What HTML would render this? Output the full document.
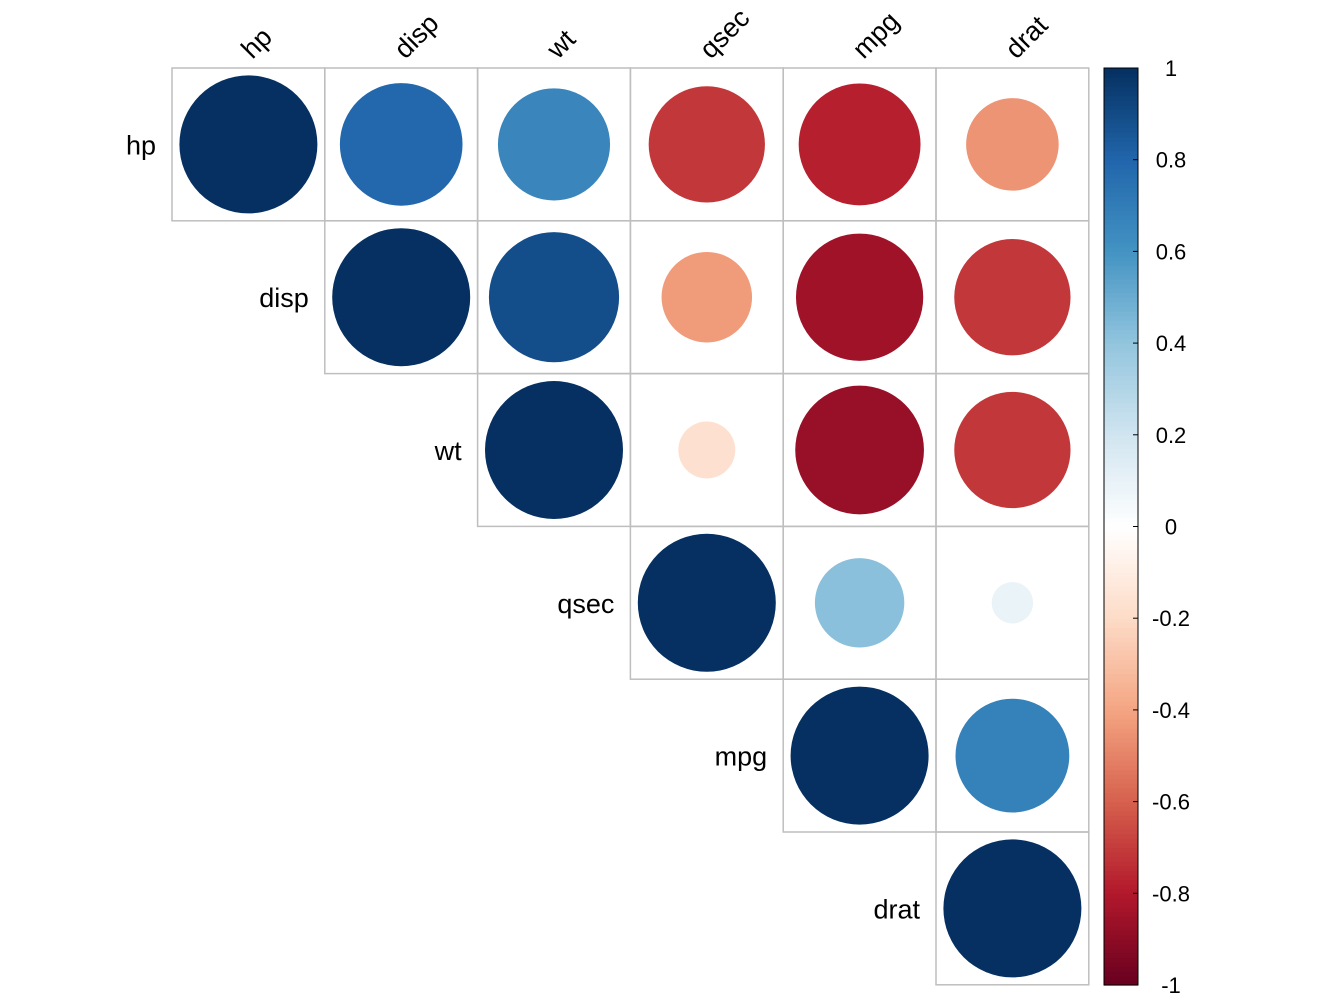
<!DOCTYPE html>
<html><head><meta charset="utf-8"><style>
html,body{margin:0;padding:0;background:#fff}
svg{display:block;font-family:"Liberation Sans",Arial,sans-serif}
</style></head><body>
<svg id="chart" width="1344" height="1008" viewBox="0 0 1344 1008"></svg>
<script>
const variables = ["hp","disp","wt","qsec","mpg","drat"];
const corrRows = [
  [1, 0.79, 0.66, -0.71, -0.78, -0.45],
  [null, 1, 0.89, -0.43, -0.85, -0.71],
  [null, null, 1, -0.17, -0.87, -0.71],
  [null, null, null, 1, 0.42, 0.09],
  [null, null, null, null, 1, 0.68],
  [null, null, null, null, null, 1]
];
const legendTicks = [1,0.8,0.6,0.4,0.2,0,-0.2,-0.4,-0.6,-0.8,-1];
const legendLabels = ["1","0.8","0.6","0.4","0.2","0","-0.2","-0.4","-0.6","-0.8","-1"];

const NS="http://www.w3.org/2000/svg";
const svg=document.getElementById('chart');
function mk(t,a,p){const e=document.createElementNS(NS,t);for(const k in a)e.setAttribute(k,a[k]);(p||svg).appendChild(e);return e;}
const pal=["#67001F","#B2182B","#D6604D","#F4A582","#FDDBC7","#FFFFFF","#D1E5F0","#92C5DE","#4393C3","#2166AC","#053061"];
function hex(h){return [1,3,5].map(i=>parseInt(h.substr(i,2),16));}
function col(v){const t=(v+1)/2*(pal.length-1);const i=Math.min(Math.floor(t),pal.length-2);const f=t-i;
 const a=hex(pal[i]),b=hex(pal[i+1]);return "rgb("+a.map((x,k)=>Math.round(x+(b[k]-x)*f)).join(",")+")";}

const x0=172,y0=68,cs=152.8,maxR=69;
const xPos=j=>x0+j*cs, yPos=i=>y0+i*cs;
const n=variables.length;
for(let i=0;i<n;i++){for(let j=i;j<n;j++){
  const v=corrRows[i][j];
  const r=mk('rect',{x:xPos(j),y:yPos(i),width:cs,height:cs,fill:'none',stroke:'#bebebe','stroke-width':1.5});
  
  
  const c=mk('circle',{cx:xPos(j)+cs/2,cy:yPos(i)+cs/2,r:maxR*Math.sqrt(Math.abs(v)),fill:col(v)});
  
  
}}
variables.forEach((v,i)=>{
  const t=mk('text',{x:xPos(i)-16,y:yPos(i)+cs/2+10,'text-anchor':'end','font-size':27});
  t.textContent=v;
  
  
  const cx=xPos(i)+cs/2+4, cy=y0-8;
  const u=mk('text',{x:cx,y:cy,'font-size':27,transform:'rotate(-45 '+cx+' '+cy+')'});
  u.textContent=v;
  
  
});
// colorbar
const bx=1104,bw=34,by0=68,by1=985;
const yL=v=>by1-(v+1)/2*(by1-by0);
const N=200;
for(let k=0;k<N;k++){const v=-1+(k+0.5)*2/N;
  mk('rect',{x:bx,y:yL(-1+(k+1)*2/N),width:bw,height:(by1-by0)/N+0.6,fill:col(v)});}
const fr=mk('rect',{x:bx,y:by0,width:bw,height:by1-by0,fill:'none',stroke:'#000','stroke-width':1});


legendTicks.forEach((v,k)=>{
  mk('line',{x1:bx+bw,x2:bx+bw-5,y1:yL(v),y2:yL(v),stroke:'#000','stroke-width':1});
  const t=mk('text',{x:1171,y:yL(v)+8,'font-size':22,'text-anchor':'middle'});
  t.textContent=legendLabels[k];
  
  
});
</script>
</body></html>
